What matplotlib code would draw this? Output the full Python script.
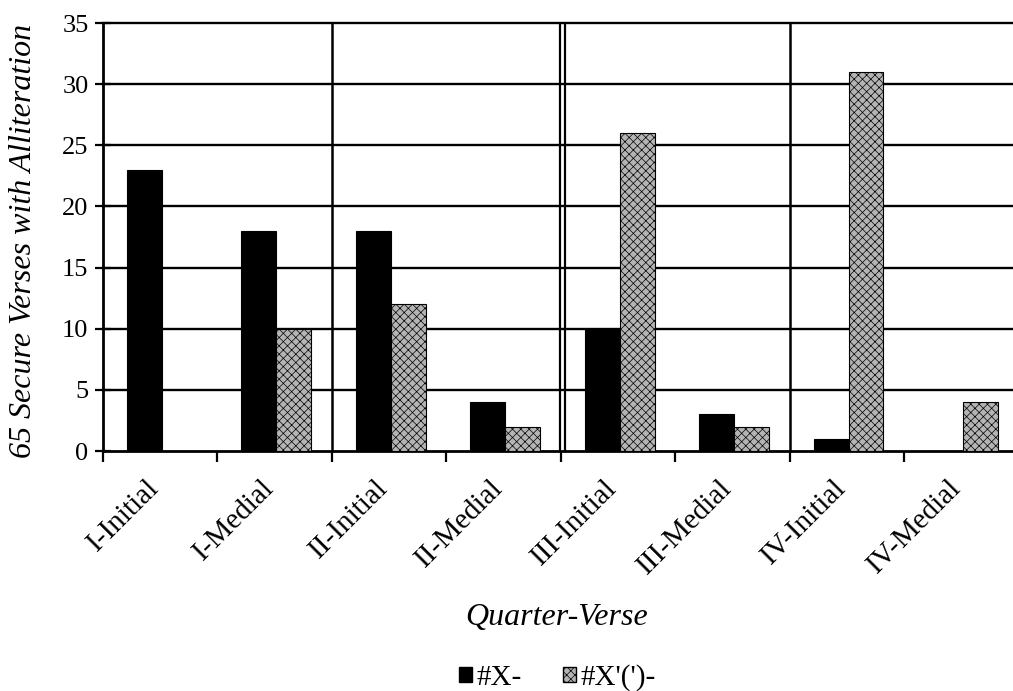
import numpy as np
import matplotlib
matplotlib.use("Agg")
import matplotlib.pyplot as plt
from matplotlib.patches import Patch

categories = ["I-Initial", "I-Medial", "II-Initial", "II-Medial",
              "III-Initial", "III-Medial", "IV-Initial", "IV-Medial"]
x_plain = [23, 18, 18, 4, 10, 3, 1, 0]        # #X-
x_prime = [0, 10, 12, 2, 26, 2, 31, 4]        # #X'(')-
series_names = ["#X-", "#X'(')-"]
y_ticks = [0, 5, 10, 15, 20, 25, 30, 35]

plt.rcParams['font.family'] = ['Liberation Serif', 'DejaVu Serif']
plt.rcParams['hatch.linewidth'] = 0.5

grey = '#b4b4b4'

fig = plt.figure(figsize=(10.13, 6.91), dpi=100)
ax = fig.add_axes([0.1017, 0.3473, 0.904, 0.6194])

x = np.arange(len(categories))
w = 0.305
ax.bar(x - w / 2 + 0.013, x_plain, w, color='black', edgecolor='black',
       linewidth=0.8, zorder=3)
ax.bar(x + w / 2 + 0.013, x_prime, w, color=grey, edgecolor='black',
       hatch='xxxx', linewidth=0.8, zorder=3)

# horizontal grid
for yv in y_ticks[1:]:
    ax.axhline(yv, color='black', lw=1.7, zorder=1, clip_on=False)

# group separators
ax.axvline(1.5, color='black', lw=1.8, zorder=2)
ax.axvline(3.5 - 0.012, color='black', lw=1.6, zorder=2)
ax.axvline(3.5 + 0.032, color='black', lw=1.6, zorder=2)
ax.axvline(5.5, color='black', lw=1.8, zorder=2)

ax.set_xlim(-0.5, 7.5)
ax.set_ylim(0, 35)
ax.set_yticks(y_ticks)
ax.set_yticklabels([str(v) for v in y_ticks], fontsize=19)
ax.tick_params(axis='y', direction='inout', length=11, width=1.6, pad=5)

ax.set_xticks(np.arange(-0.5, 8, 1.0))
ax.set_xticklabels([])
ax.tick_params(axis='x', direction='out', length=8, width=1.6)
for xi, lab in zip(x, categories):
    ax.text(xi - 0.122, -1.96, lab, rotation=45, ha='right', va='top',
            rotation_mode='anchor', fontsize=21)

for s in ['top', 'right']:
    ax.spines[s].set_visible(False)
ax.spines['left'].set_linewidth(2.0)
ax.spines['bottom'].set_linewidth(2.0)

ax.set_ylabel("65 Secure Verses with Alliteration", fontsize=23, style='italic')
ax.yaxis.set_label_coords(-0.071, 0.49)
ax.set_xlabel("Quarter-Verse", fontsize=23, style='italic')
ax.xaxis.set_label_coords(0.495, -0.355)

handles = [Patch(facecolor='black', edgecolor='black', label=series_names[0]),
           Patch(facecolor=grey, edgecolor='black', hatch='xxxx', label=series_names[1])]
ax.legend(handles=handles, loc='center', bbox_to_anchor=(0.496, -0.530),
          ncol=2, frameon=False, fontsize=21, handlelength=0.45, handleheight=0.45,
          handletextpad=0.15, columnspacing=1.4)

fig.savefig("out.png", dpi=100)
